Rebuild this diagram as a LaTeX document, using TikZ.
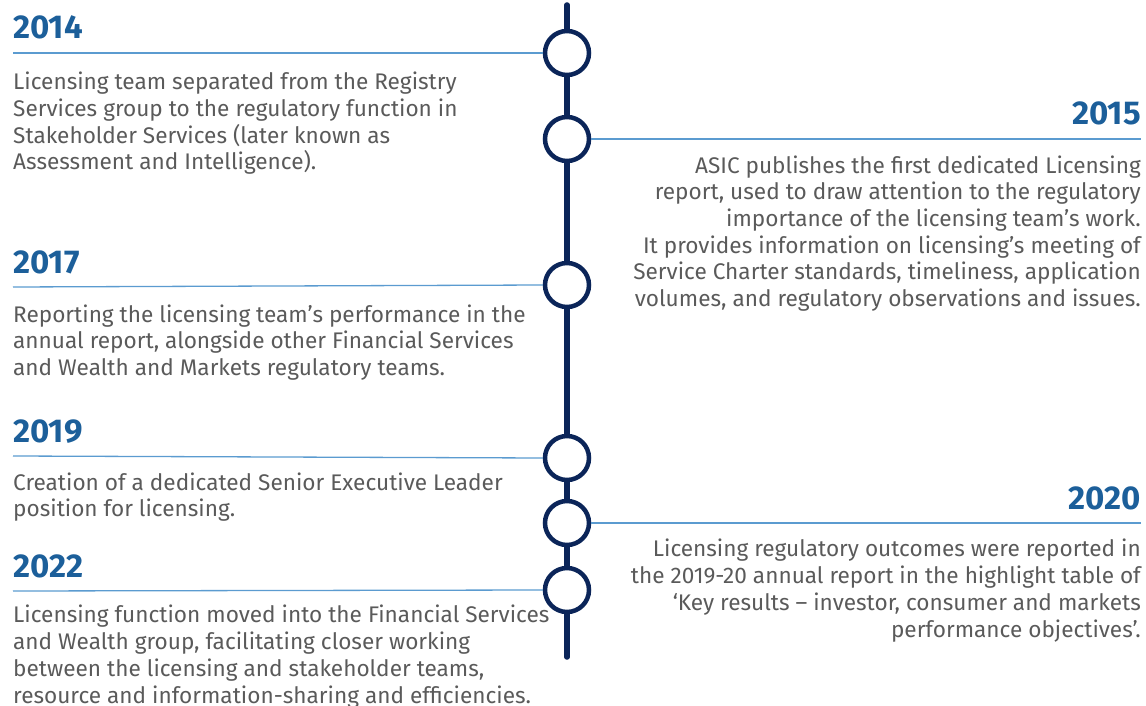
\documentclass[tikz,border=0pt]{standalone}
\usepackage{fontspec}
\setmainfont{Fira Sans}
\usepackage{tikz}

\definecolor{navy}{HTML}{0B2559}
\definecolor{yearblue}{HTML}{1C5F9A}
\definecolor{ruleblue}{HTML}{5B9BD0}
\definecolor{bodygray}{HTML}{5A5A5A}

\tikzset{
  spine/.style={navy,line width=5.5pt,line cap=round},
  dot/.style={circle,draw=navy,fill=white,line width=4.5pt,minimum size=44pt,inner sep=0pt},
  rule/.style={ruleblue,line width=1.3pt},
  year/.style={text=yearblue,font=\fontsize{33}{36}\selectfont\bfseries,inner sep=0pt},
  body/.style={text=bodygray,font=\fontsize{22.6}{26.7}\selectfont,inner sep=0pt}
}

\begin{document}
\begin{tikzpicture}[x=1pt,y=-1pt]
\useasboundingbox (0,0) rectangle (1146,706);
% spine and milestones
\coordinate (top) at (567,5);
\coordinate (bot) at (567,657);
\draw[spine] (top) -- (bot);
\node[dot] (c14) at (567,53) {};
\node[dot] (c15) at (567,139) {};
\node[dot] (c17) at (567,285) {};
\node[dot] (c19) at (567,458) {};
\node[dot] (c20) at (567,523) {};
\node[dot] (c22) at (567,590) {};
% rules
\coordinate (r14) at (13,53);
\coordinate (r15) at (1141,139);
\coordinate (r17) at (13,287);
\coordinate (r19) at (13,456);
\coordinate (r20) at (1141,523);
\coordinate (r22) at (13,591);
\draw[rule] (r14) -- (c14.west);
\draw[rule] (c15.east) -- (r15);
\draw[rule] (r17) -- (c17.west);
\draw[rule] (r19) -- (c19.west);
\draw[rule] (c20.east) -- (r20);
\draw[rule] (r22) -- (c22.west);
% left side (body nodes sit on their last baseline)
\node[year,anchor=base west] (y14) at (13,39) {2014};
\node[body,anchor=base west,align=left] (t14) at (13,170)
  {Licensing team separated from the Registry\\Services group to the regulatory function in\\Stakeholder Services (later known as\\Assessment and Intelligence).};
\node[year,anchor=base west] (y17) at (13,273) {2017};
\node[body,anchor=base west,align=left] (t17) at (13,375.4)
  {Reporting the licensing team’s performance in the\\annual report, alongside other Financial Services\\and Wealth and Markets regulatory teams.};
\node[year,anchor=base west] (y19) at (13,442) {2019};
\node[body,anchor=base west,align=left] (t19) at (13,516.7)
  {Creation of a dedicated Senior Executive Leader\\position for licensing.};
\node[year,anchor=base west] (y22) at (13,577) {2022};
\node[body,anchor=base west,align=left] (t22) at (13,703)
  {Licensing function moved into the Financial Services\\and Wealth group, facilitating closer working\\between the licensing and stakeholder teams,\\resource and information-sharing and efficiencies.};
% right side
\node[year,anchor=base east] (y15) at (1141,125) {2015};
\node[body,anchor=base east,align=right] (t15) at (1141,306.5)
  {ASIC publishes the first dedicated Licensing\\report, used to draw attention to the regulatory\\importance of the licensing team’s work.\\It provides information on licensing’s meeting of\\Service Charter standards, timeliness, application\\volumes, and regulatory observations and issues.};
\node[year,anchor=base east] (y20) at (1141,509) {2020};
\node[body,anchor=base east,align=right] (t20) at (1141,637)
  {Licensing regulatory outcomes were reported in\\the 2019-20 annual report in the highlight table of\\‘Key results – investor, consumer and markets\\performance objectives’.};
\end{tikzpicture}
\end{document}
